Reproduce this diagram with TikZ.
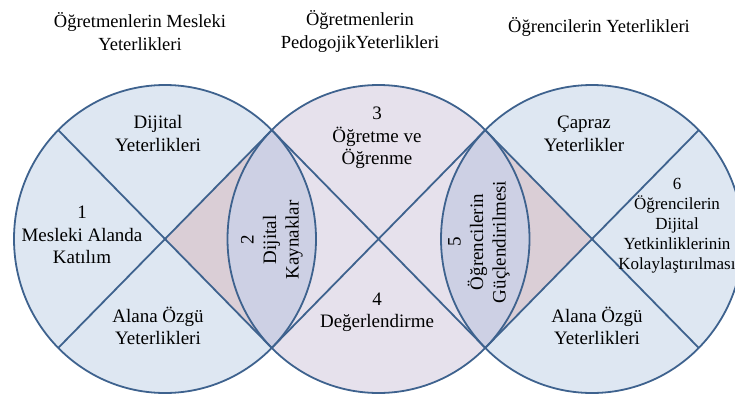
\documentclass[tikz,border=0pt]{standalone}
\usepackage{fontspec}
\setmainfont{Liberation Serif}
\usetikzlibrary{calc}

\definecolor{ringline}{HTML}{3E628E}
\definecolor{bluefill}{HTML}{DEE7F2}
\definecolor{lilacfill}{HTML}{E6E1EC}
\definecolor{rosefill}{HTML}{DACED6}
\definecolor{lensfill}{HTML}{CDD0E4}

\begin{document}
\begin{tikzpicture}[x=1pt,y=-1pt,
  ringsize/.style={x radius=151pt,y radius=154pt},
  ring/.style={draw=ringline,line width=1.8pt},
  spoke/.style={draw=ringline,line width=1.8pt},
  lbl/.style={align=center,font=\fontsize{19}{22.5}\selectfont,inner sep=0pt},
  small/.style={align=center,font=\fontsize{17}{20}\selectfont,inner sep=0pt},
  title/.style={align=center,font=\fontsize{18.5}{23}\selectfont,inner sep=0pt}]
\useasboundingbox (0,0) rectangle (735,396);
\clip (0,0) rectangle (735,396);

% ring centres
\coordinate (c1) at (165,239);
\coordinate (c2) at (378.5,239);
\coordinate (c3) at (592,239);
% points where neighbouring rings cross
\coordinate (a-top) at (271.75,130.1);
\coordinate (a-bot) at (271.75,347.9);
\coordinate (b-top) at (485.25,130.1);
\coordinate (b-bot) at (485.25,347.9);
% outer spoke ends
\coordinate (l-top) at (58.25,130.1);
\coordinate (l-bot) at (58.25,347.9);
\coordinate (r-top) at (698.75,130.1);
\coordinate (r-bot) at (698.75,347.9);

% ring fills
\fill[bluefill] (c1) ellipse[ringsize];
\fill[lilacfill] (c2) ellipse[ringsize];
\fill[bluefill] (c3) ellipse[ringsize];
\begin{scope}
  \clip (c1) ellipse[ringsize];
  \fill[rosefill] (c1) -- ($(c1)!2!(a-top)$) -- ($(c1)!2!(a-bot)$) -- cycle;
  \fill[lensfill] (c2) ellipse[ringsize];
\end{scope}
\begin{scope}
  \clip (c3) ellipse[ringsize];
  \fill[rosefill] (c3) -- ($(c3)!2!(b-top)$) -- ($(c3)!2!(b-bot)$) -- cycle;
  \fill[lensfill] (c2) ellipse[ringsize];
\end{scope}

% outlines
\draw[ring] (c1) ellipse[ringsize];
\draw[ring] (c2) ellipse[ringsize];
\draw[ring] (c3) ellipse[ringsize];
\draw[spoke] (l-top) -- (a-bot);
\draw[spoke] (l-bot) -- (a-top);
\draw[spoke] (a-top) -- (b-bot);
\draw[spoke] (a-bot) -- (b-top);
\draw[spoke] (b-top) -- (r-bot);
\draw[spoke] (b-bot) -- (r-top);

% headings
\node[title] (t1) at (140,31.5) {Öğretmenlerin Mesleki\\Yeterlikleri};
\node[title] (t2) at (360,31.5) {Öğretmenlerin\\PedogojikYeterlikleri};
\node[title] (t3) at (599,27) {Öğrencilerin Yeterlikleri};

% segment labels
\node[lbl] (n-dy) at (158,133.5) {Dijital\\Yeterlikleri};
\node[lbl] (n1) at (82,235) {1\\Mesleki Alanda\\Katılım};
\node[lbl] (n-az1) at (158,326) {Alana Özgü\\Yeterlikleri};
\node[lbl] (n3) at (377,138) {3\\Öğretme ve\\Öğrenme};
\node[lbl] (n4) at (377,312.5) {4\\Değerlendirme};
\node[lbl,rotate=90] (n2) at (272,240) {2\\Dijital\\Kaynaklar};
\node[lbl,rotate=90] (n5) at (479,242) {5\\Öğrencilerin\\Güçlendirilmesi};
\node[lbl] (n-cy) at (584,134) {Çapraz\\Yeterlikler};
\node[small] (n6) at (677,226) {6\\Öğrencilerin\\Dijital\\Yetkinliklerinin\\Kolaylaştırılması};
\node[lbl] (n-az3) at (597,326) {Alana Özgü\\Yeterlikleri};
\end{tikzpicture}
\end{document}
